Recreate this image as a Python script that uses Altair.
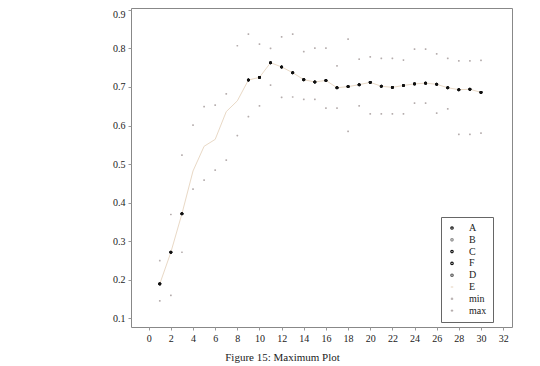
import altair as alt
import pandas as pd

x_vals = list(range(1, 31))
mean_line = [0.189, 0.271, 0.371, 0.482, 0.546, 0.564, 0.636, 0.664, 0.718, 0.725,
             0.763, 0.752, 0.737, 0.719, 0.713, 0.717, 0.698, 0.701, 0.706, 0.712,
             0.702, 0.699, 0.704, 0.708, 0.710, 0.707, 0.698, 0.693, 0.694, 0.686]
mean_points = [0.189, 0.271, 0.371, None, None, None, None, None, 0.718, 0.725,
               0.763, 0.752, 0.737, 0.719, 0.713, 0.717, 0.698, 0.701, 0.706, 0.712,
               0.702, 0.699, 0.704, 0.708, 0.710, 0.707, 0.698, 0.693, 0.694, 0.686]
min_vals = [0.145, 0.159, 0.271, 0.435, 0.458, 0.484, 0.510, 0.574, 0.623, 0.651,
            0.705, 0.673, 0.674, 0.668, 0.668, 0.645, 0.645, 0.585, 0.651, 0.630,
            0.630, 0.630, 0.630, 0.658, 0.658, 0.632, 0.643, 0.577, 0.577, 0.580]
max_vals = [0.249, 0.369, 0.523, 0.601, 0.649, 0.653, 0.682, 0.807, 0.837, 0.811,
            0.800, 0.830, 0.837, 0.792, 0.801, 0.801, 0.755, 0.824, 0.772, 0.778,
            0.774, 0.774, 0.770, 0.798, 0.798, 0.786, 0.774, 0.768, 0.768, 0.769]
x_ticks = list(range(0, 33, 2))
y_ticks = [0.1, 0.2, 0.3, 0.4, 0.5, 0.6, 0.7, 0.8, 0.9]

series_order = ["A", "B", "C", "F", "D", "E", "min", "max"]
series_colors = ["#111111", "#888888", "#111111", "#111111", "#555555", "#e9d9c6", "#b5adad", "#b5adad"]
plus = "M-1,0H1M0,-1V1"
series_shapes = ["circle", "circle", "circle", "circle", "circle", "stroke", plus, plus]

rows = []
for s in ["B", "D", "A", "C", "F"]:
    for x, v in zip(x_vals, mean_points):
        if v is not None:
            rows.append({"x": x, "y": v, "series": s})
for x, v in zip(x_vals, min_vals):
    rows.append({"x": x, "y": v, "series": "min"})
for x, v in zip(x_vals, max_vals):
    rows.append({"x": x, "y": v, "series": "max"})
pts = pd.DataFrame(rows)
line_df = pd.DataFrame({"x": x_vals, "y": mean_line, "series": "E"})

font = "Liberation Serif"
xscale = alt.Scale(domain=[-1.6, 32.8], nice=False, zero=False)
yscale = alt.Scale(domain=[0.077, 0.905], nice=False, zero=False)
xaxis = alt.Axis(values=x_ticks, title=None, grid=False, tickSize=3,
                 labelFont=font, labelFontSize=10, labelColor="#222", tickColor="#999",
                 domain=False, labelPadding=3, labelOverlap=False)
yaxis = alt.Axis(values=y_ticks, format=".1f", title=None,
                 grid=False, tickSize=3, labelFont=font, labelFontSize=10, labelColor="#222",
                 tickColor="#999", domain=False, labelPadding=3, labelOverlap=False,
                 labelFlush=4)
color = alt.Color("series:N", scale=alt.Scale(domain=series_order, range=series_colors),
                  legend=alt.Legend(title=None, orient="none", legendX=310, legendY=209,
                                    strokeColor="#666", fillColor="white", padding=6,
                                    labelFont=font, labelFontSize=10, labelColor="#222",
                                    symbolSize=6, symbolStrokeWidth=1.2, rowPadding=1.8,
                                    labelOffset=12))
shape = alt.Shape("series:N", scale=alt.Scale(domain=series_order, range=series_shapes))

line = alt.Chart(line_df).mark_line(strokeWidth=1).encode(
    x=alt.X("x:Q", scale=xscale, axis=xaxis),
    y=alt.Y("y:Q", scale=yscale, axis=yaxis),
    color=color,
)
points = alt.Chart(pts).mark_point(filled=False, size=3, strokeWidth=1.2, opacity=1).encode(
    x=alt.X("x:Q", scale=xscale, axis=xaxis),
    y=alt.Y("y:Q", scale=yscale, axis=yaxis),
    color=color,
    shape=shape,
)

chart = alt.layer(line, points).properties(
    width=381, height=319,
    autosize=alt.AutoSizeParams(type="none"),
    padding={"left": 123, "top": 0, "right": 12, "bottom": 36},
    title=alt.TitleParams("Figure 15: Maximum Plot", orient="bottom", anchor="middle",
                          dx=-39, offset=9, font=font, fontSize=11, fontWeight="normal",
                          color="#222"),
).configure_view(stroke="#888", strokeWidth=1).configure_axis(labelOverlap=False)

chart.save("out.html", embed_options={"renderer": "svg", "actions": False})
